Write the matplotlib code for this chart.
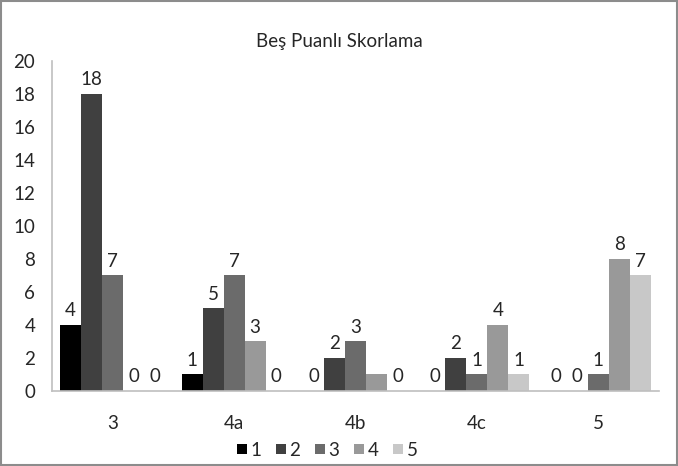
import matplotlib
matplotlib.use("Agg")
import matplotlib.pyplot as plt
import numpy as np
from matplotlib.patches import Rectangle

plt.rcParams['font.family'] = ['Lato', 'DejaVu Sans']

categories = ['3', '4a', '4b', '4c', '5']
series_names = ['1', '2', '3', '4', '5']
values = [
    [4, 1, 0, 0, 0],
    [18, 5, 2, 2, 0],
    [7, 7, 3, 1, 1],
    [0, 3, 1, 4, 8],
    [0, 0, 0, 1, 7],
]
colors = ['#000000', '#404040', '#6b6b6b', '#999999', '#c8c8c8']
# labels not shown in the source (series index, category index)
hidden_labels = {(3, 2)}
text_color = '#262626'

fig = plt.figure(figsize=(6.78, 4.66), dpi=100)
ax = fig.add_axes([0.0767, 0.161, 0.8953, 0.708])

x = np.arange(len(categories))
n = len(series_names)
w = 0.173
for i, vals in enumerate(values):
    pos = x + (i - (n - 1) / 2) * w
    ax.bar(pos, vals, width=w, color=colors[i], label=series_names[i])
    for j, v in enumerate(vals):
        if (i, j) in hidden_labels:
            continue
        ax.annotate(str(v), (pos[j], v), xytext=(0, 4), textcoords='offset points',
                    ha='center', va='bottom', fontsize=13.5, color=text_color)

ax.set_xlim(-0.5, len(categories) - 0.5)
ax.set_ylim(0, 20)
ax.set_yticks(range(0, 21, 2))
ax.set_xticks(x)
ax.set_xticklabels(categories)
ax.tick_params(axis='both', length=0, labelsize=13.5, colors=text_color)
ax.tick_params(axis='y', pad=12)
ax.tick_params(axis='x', pad=17)
for side in ['top', 'right']:
    ax.spines[side].set_visible(False)
for side in ['left', 'bottom']:
    ax.spines[side].set_color('#bfbfbf')
    ax.spines[side].set_linewidth(1.2)

fig.text(0.5, 0.91, 'Beş Puanlı Skorlama', ha='center', va='center',
         fontsize=13.5, color=text_color)

leg = fig.legend(loc='center', bbox_to_anchor=(0.483, 0.034), ncol=5, frameon=False,
                 fontsize=13.5, handlelength=0.5, handleheight=0.5, handletextpad=0.2,
                 columnspacing=0.8)
for t in leg.get_texts():
    t.set_color(text_color)

fig.patches.append(Rectangle((0.002, 0.002), 0.996, 0.996, transform=fig.transFigure,
                             fill=False, edgecolor='#8c8c8c', linewidth=1.5))

fig.savefig('out.png', dpi=100)
